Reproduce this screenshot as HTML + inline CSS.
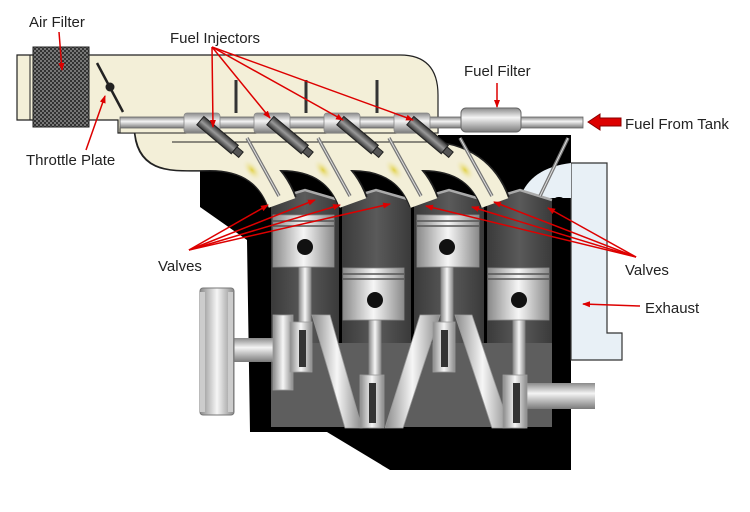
<!DOCTYPE html>
<html><head><meta charset="utf-8"><style>
html,body{margin:0;padding:0;background:#fff;width:750px;height:512px;overflow:hidden}
svg{display:block}
text{font-family:"Liberation Sans",sans-serif;font-size:15px;fill:#222}
</style></head><body>
<svg width="750" height="512" viewBox="0 0 750 512" xmlns="http://www.w3.org/2000/svg">
<defs>
<linearGradient id="metal" x1="0" y1="0" x2="0" y2="1"><stop offset="0" stop-color="#8a8a8a"/><stop offset=".4" stop-color="#f4f4f4"/><stop offset="1" stop-color="#7a7a7a"/></linearGradient>
<linearGradient id="metalh" x1="0" y1="0" x2="1" y2="0"><stop offset="0" stop-color="#8a8a8a"/><stop offset=".5" stop-color="#f6f6f6"/><stop offset="1" stop-color="#8a8a8a"/></linearGradient>
<linearGradient id="inj" x1="0" y1="0" x2="1" y2="0"><stop offset="0" stop-color="#333"/><stop offset=".5" stop-color="#999"/><stop offset="1" stop-color="#333"/></linearGradient>
<linearGradient id="cyl" x1="0" y1="0" x2="1" y2="0"><stop offset="0" stop-color="#3a3a3a"/><stop offset=".5" stop-color="#5a5a5a"/><stop offset="1" stop-color="#3a3a3a"/></linearGradient>
<radialGradient id="spray"><stop offset="0" stop-color="#e2d24a"/><stop offset="1" stop-color="#f3efd8" stop-opacity="0"/></radialGradient>
<pattern id="mesh" width="4" height="4" patternUnits="userSpaceOnUse"><rect width="4" height="4" fill="#333"/><rect width="2" height="2" fill="#777"/><rect x="2" y="2" width="2" height="2" fill="#777"/></pattern>
<marker id="ar" markerWidth="8" markerHeight="8" refX="7" refY="4" orient="auto" markerUnits="userSpaceOnUse"><path d="M0,1 L8,4 L0,7z" fill="#d00"/></marker>
</defs>
<!-- black block -->
<path d="M200,135 L571,135 L571,470 L390,470 L327,432 L250,432 L247,240 L200,207 Z" fill="#000"/>
<!-- exhaust -->
<path d="M571,163 L607,163 L607,333 L622,333 L622,360 L571,360 Z" fill="#e8f0f6" stroke="#333" stroke-width="1.2"/>
<path d="M520,198 Q530,168 571,163 L571,198 Z" fill="#e8f0f6"/>
<rect x="553" y="197" width="12" height="33" rx="5" fill="#000"/>
<!-- cylinders -->
<g fill="url(#cyl)">
<path d="M271,200 L305,190 L339,200 L339,427 L271,427Z"/>
<path d="M342,200 L376,190 L411,200 L411,427 L342,427Z"/>
<path d="M414,200 L449,190 L484,200 L484,427 L414,427Z"/>
<path d="M487,200 L520,190 L552,200 L552,427 L487,427Z"/>
</g>
<rect x="271" y="343" width="281" height="84" fill="#5e5e5e"/>
<g stroke="#aaa" stroke-width="2.5" fill="none">
<path d="M271,200 L305,190 L339,200"/><path d="M342,200 L376,190 L411,200"/><path d="M414,200 L449,190 L484,200"/><path d="M487,200 L520,190 L552,200"/>
</g>
<!-- intake manifold main -->
<path d="M17,55 L400,55 Q438,55 438,95 L438,133 L118,133 L118,120 L17,120 Z" fill="#f3efd8" stroke="#222" stroke-width="1.2"/>
<line x1="30" y1="55" x2="30" y2="120" stroke="#222" stroke-width="1"/>
<!-- runners -->
<g fill="none">
<g stroke="#222" stroke-width="31">
<path d="M149,126 C149,160 170,156 210,156 C250,156 272,175 282,202"/><path d="M220,126 C220,160 241,156 281,156 C321,156 343,175 353,202"/><path d="M291,126 C291,160 312,156 352,156 C392,156 414,175 424,202"/><path d="M362,126 C362,160 383,156 423,156 C463,156 485,175 495,202"/>
</g>
<g stroke="#f3efd8" stroke-width="28">
<path d="M149,124 C149,160 170,156 210,156 C250,156 272,175 282,203"/><path d="M220,124 C220,160 241,156 281,156 C321,156 343,175 353,203"/><path d="M291,124 C291,160 312,156 352,156 C392,156 414,175 424,203"/><path d="M362,124 C362,160 383,156 423,156 C463,156 485,175 495,203"/>
</g>
</g>
<rect x="163" y="133" width="275" height="9" fill="#f3efd8"/>
<line x1="172" y1="142" x2="438" y2="142" stroke="#222" stroke-width="1"/>
<rect x="120" y="127" width="318" height="6" fill="#f3efd8" stroke="#222" stroke-width="1"/>
<g fill="url(#spray)"><ellipse cx="252" cy="170" rx="7" ry="13" transform="rotate(-40 252 170)"/><ellipse cx="323" cy="170" rx="7" ry="13" transform="rotate(-40 323 170)"/><ellipse cx="394" cy="170" rx="7" ry="13" transform="rotate(-40 394 170)"/><ellipse cx="465" cy="170" rx="7" ry="13" transform="rotate(-40 465 170)"/></g>
<!-- air filter -->
<rect x="33" y="47" width="56" height="80" fill="url(#mesh)" stroke="#222"/>
<line x1="97" y1="63" x2="123" y2="112" stroke="#222" stroke-width="2.5"/><circle cx="110" cy="87" r="4.5" fill="#222"/>
<!-- vertical rods -->
<g stroke="#333" stroke-width="3"><line x1="236" y1="80" x2="236" y2="113"/><line x1="306" y1="80" x2="306" y2="113"/><line x1="377" y1="80" x2="377" y2="113"/></g>
<!-- fuel rail -->
<rect x="120" y="117" width="463" height="11" fill="url(#metal)" stroke="#666" stroke-width=".8"/>
<g fill="url(#metal)" stroke="#888" stroke-width=".8"><rect x="184" y="113" width="36" height="20" rx="3"/><rect x="254" y="113" width="36" height="20" rx="3"/><rect x="324" y="113" width="36" height="20" rx="3"/><rect x="394" y="113" width="36" height="20" rx="3"/></g>
<rect x="461" y="108" width="60" height="24" rx="5" fill="url(#metal)" stroke="#666"/>
<!-- injectors -->
<g stroke="#222" stroke-width="1" fill="url(#inj)">
<g transform="translate(200,121) rotate(-50)"><rect x="-5" y="0" width="11" height="45"/><rect x="-3" y="45" width="7" height="8" fill="#555"/></g>
<g transform="translate(270,121) rotate(-50)"><rect x="-5" y="0" width="11" height="45"/><rect x="-3" y="45" width="7" height="8" fill="#555"/></g>
<g transform="translate(340,121) rotate(-50)"><rect x="-5" y="0" width="11" height="45"/><rect x="-3" y="45" width="7" height="8" fill="#555"/></g>
<g transform="translate(410,121) rotate(-50)"><rect x="-5" y="0" width="11" height="45"/><rect x="-3" y="45" width="7" height="8" fill="#555"/></g>
</g>
<!-- valve stems -->
<g stroke="#777" stroke-width="3.5"><line x1="247" y1="138" x2="279" y2="196"/><line x1="318" y1="138" x2="350" y2="196"/><line x1="389" y1="138" x2="421" y2="196"/><line x1="460" y1="138" x2="492" y2="196"/><line x1="568" y1="138" x2="540" y2="196"/></g>
<g stroke="#ddd" stroke-width="1"><line x1="247" y1="138" x2="279" y2="196"/><line x1="318" y1="138" x2="350" y2="196"/><line x1="389" y1="138" x2="421" y2="196"/><line x1="460" y1="138" x2="492" y2="196"/><line x1="568" y1="138" x2="540" y2="196"/></g>
<!-- pulley + shafts -->
<rect x="233" y="338" width="45" height="24" fill="url(#metal)"/>
<rect x="525" y="383" width="70" height="26" fill="url(#metal)"/>
<rect x="200" y="288" width="34" height="127" rx="3" fill="url(#metalh)" stroke="#777"/>
<rect x="200" y="292" width="5" height="120" fill="#ccc"/><rect x="228" y="292" width="5" height="120" fill="#ccc"/>
<!-- connecting rods -->
<g fill="url(#metalh)" stroke="#888" stroke-width=".8">
<rect x="299" y="265" width="12" height="105"/><rect x="369" y="318" width="12" height="110"/><rect x="441" y="265" width="12" height="105"/><rect x="513" y="318" width="12" height="110"/>
</g>
<!-- crank -->
<g fill="url(#metalh)" stroke="#999" stroke-width=".8">
<path d="M312,315 L330,315 L362,428 L345,428Z"/>
<path d="M385,428 L403,428 L440,315 L420,315Z"/>
<path d="M455,315 L472,315 L510,428 L492,428Z"/>
<rect x="273" y="315" width="20" height="75"/><rect x="290" y="322" width="22" height="50"/>
<rect x="433" y="322" width="22" height="50"/>
<rect x="360" y="375" width="24" height="53"/><rect x="503" y="375" width="24" height="53"/>
</g>
<g fill="#333"><rect x="299" y="330" width="7" height="37"/><rect x="369" y="383" width="7" height="40"/><rect x="441" y="330" width="7" height="37"/><rect x="513" y="383" width="7" height="40"/></g>
<!-- pistons -->
<g fill="url(#metalh)" stroke="#888" stroke-width=".8">
<rect x="273" y="215" width="61" height="52"/><rect x="343" y="268" width="61" height="52"/><rect x="417" y="215" width="62" height="52"/><rect x="488" y="268" width="61" height="52"/>
</g>
<g stroke="#555" stroke-width="1.5"><line x1="273" y1="221" x2="334" y2="221"/><line x1="273" y1="226" x2="334" y2="226"/><line x1="343" y1="274" x2="404" y2="274"/><line x1="343" y1="279" x2="404" y2="279"/><line x1="417" y1="221" x2="479" y2="221"/><line x1="417" y1="226" x2="479" y2="226"/><line x1="488" y1="274" x2="549" y2="274"/><line x1="488" y1="279" x2="549" y2="279"/></g>
<g fill="#111"><circle cx="305" cy="247" r="8"/><circle cx="375" cy="300" r="8"/><circle cx="447" cy="247" r="8"/><circle cx="519" cy="300" r="8"/></g>
<!-- arrows -->
<g stroke="#d00" stroke-width="1.5" fill="none" marker-end="url(#ar)">
<line x1="59" y1="32" x2="62" y2="70"/>
<line x1="86" y1="150" x2="105" y2="96"/>
<line x1="212" y1="47" x2="213" y2="127"/><line x1="212" y1="47" x2="270" y2="118"/><line x1="212" y1="47" x2="343" y2="120"/><line x1="212" y1="47" x2="413" y2="120"/>
<line x1="497" y1="83" x2="497" y2="107"/>
<line x1="189" y1="250" x2="268" y2="205"/><line x1="189" y1="250" x2="315" y2="200"/><line x1="189" y1="250" x2="340" y2="205"/><line x1="189" y1="250" x2="390" y2="204"/>
<line x1="636" y1="257" x2="426" y2="206"/><line x1="636" y1="257" x2="472" y2="207"/><line x1="636" y1="257" x2="494" y2="202"/><line x1="636" y1="257" x2="548" y2="208"/>
<line x1="640" y1="306" x2="583" y2="304"/>
</g>
<path d="M588,122 L600,114 L600,118 L621,118 L621,126 L600,126 L600,130Z" fill="#d00" stroke="#800"/>
<text x="29" y="27">Air Filter</text>
<text x="170" y="43">Fuel Injectors</text>
<text x="464" y="76">Fuel Filter</text>
<text x="625" y="129">Fuel From Tank</text>
<text x="26" y="165">Throttle Plate</text>
<text x="158" y="271">Valves</text>
<text x="625" y="275">Valves</text>
<text x="645" y="313">Exhaust</text>
</svg>
</body></html>
